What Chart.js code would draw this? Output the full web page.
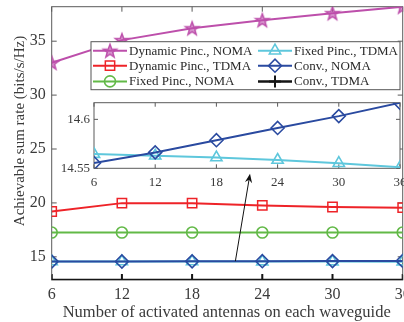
<!DOCTYPE html>
<html>
<head>
<meta charset="utf-8">
<script src="https://cdn.jsdelivr.net/npm/chart.js@4.4.1/dist/chart.umd.min.js"></script>
<style>
  html, body { margin: 0; padding: 0; background: #fff; overflow: hidden; }
  #wrap { position: relative; width: 404px; height: 322px; overflow: hidden; }
  #wrap canvas { position: absolute; left: 0; top: 0; }
</style>
</head>
<body>
<div id="wrap">
  <canvas id="main" width="404" height="322"></canvas>
  <canvas id="inset" width="404" height="322"></canvas>
</div>
<script>
// Number of activated antennas on each waveguide
const antennas = [6, 12, 18, 24, 30, 36];

// Achievable sum rate (bits/s/Hz) per scheme
const dynamicNoma = [33.0, 35.1, 36.2, 36.95, 37.6, 38.2];
const dynamicTdma = [19.2, 19.98, 19.98, 19.77, 19.62, 19.56];
const fixedNoma   = [17.25, 17.25, 17.25, 17.25, 17.25, 17.25];
const fixedTdma   = [14.5645, 14.5628, 14.561, 14.5585, 14.5552, 14.551];
const convNoma    = [14.5554, 14.5662, 14.5787, 14.5912, 14.6033, 14.6169];
const convTdma    = [12.85, 12.85, 12.85, 12.85, 12.85, 12.85];

const seriesNames = ['Dynamic Pinc., NOMA', 'Dynamic Pinc., TDMA', 'Fixed Pinc., NOMA',
                     'Fixed Pinc., TDMA', 'Conv., NOMA', 'Conv., TDMA'];

// Tick labels and axis ranges
const xTicks = [6, 12, 18, 24, 30, 36];
const mainYTicks = [15, 20, 25, 30, 35];
const mainYRange = [12.85, 38.2];
const insetYTicks = [14.55, 14.6];
const insetYRange = [14.55, 14.617];

// Arrow pointing from the Conv. curves up to the zoomed view (data units)
const arrowFrom = [21.7, 14.6];
const arrowTo = [22.95, 22.7];

const SERIF = "'Liberation Serif', 'Times New Roman', serif";
const TEXT = '#3a3a3a';
const AXIS = '#5a5a5a';

function makeStar(color, R) {
  const c = document.createElement('canvas');
  const n = Math.ceil(2 * R + 4);
  c.width = c.height = n;
  const g = c.getContext('2d');
  const r = R * 0.41, m = n / 2;
  g.beginPath();
  for (let k = 0; k < 10; k++) {
    const a = -Math.PI / 2 + k * Math.PI / 5;
    const d = k % 2 ? r : R;
    g.lineTo(m + d * Math.cos(a), m + 0.6 + d * Math.sin(a));
  }
  g.closePath();
  g.globalAlpha = 0.6; g.fillStyle = color; g.fill();
  g.globalAlpha = 1; g.lineWidth = 1.5; g.strokeStyle = color; g.lineJoin = 'miter'; g.stroke();
  return c;
}

const styles = [
  { color: '#BD4FAB', pointStyle: makeStar('#BD4FAB', 7), radius: 7, pw: 1.5, lw: 2 },
  { color: '#EE2328', pointStyle: 'rect', radius: 6.6, pw: 1.5, lw: 2 },
  { color: '#62B947', pointStyle: 'circle', radius: 5.5, pw: 1.6, lw: 2 },
  { color: '#5EC7DC', pointStyle: 'triangle', radius: 6.5, pw: 1.6, lw: 2 },
  { color: '#2A4AA0', pointStyle: 'rectRot', radius: 6.5, pw: 1.6, lw: 2 },
  { color: '#151515', pointStyle: 'cross', radius: 6, pw: 2, lw: 2.5 }
];

const seriesValues = [dynamicNoma, dynamicTdma, fixedNoma, fixedTdma, convNoma, convTdma];

function makeDataset(i) {
  const s = styles[i];
  return {
    label: seriesNames[i],
    data: antennas.map((x, k) => ({ x: x, y: seriesValues[i][k] })),
    borderColor: s.color,
    borderWidth: s.lw,
    backgroundColor: s.color,
    pointStyle: s.pointStyle,
    pointRadius: s.radius,
    pointBorderWidth: s.pw,
    pointBorderColor: s.color,
    pointBackgroundColor: 'rgba(0,0,0,0)',
    pointHoverRadius: s.radius,
    tension: 0,
    fill: false,
    order: i === 3 ? 1 : 0
  };
}

function setTicks(values) {
  return function (scale) { scale.ticks = values.map(v => ({ value: v })); };
}

// Box around the plot area with inward tick marks on all four sides
const framePlugin = {
  id: 'frame',
  beforeDatasetsDraw(chart, args, opts) {
    const { ctx, chartArea: a, scales } = chart;
    ctx.save();
    if (opts.fill) { ctx.fillStyle = '#fff'; ctx.fillRect(a.left, a.top, a.right - a.left, a.bottom - a.top); }
    ctx.strokeStyle = AXIS; ctx.lineWidth = 1;
    ctx.strokeRect(a.left, a.top, a.right - a.left, a.bottom - a.top);
    const L = opts.tick || 5;
    ctx.beginPath();
    scales.x.ticks.forEach(t => {
      const px = scales.x.getPixelForValue(t.value);
      ctx.moveTo(px, a.bottom); ctx.lineTo(px, a.bottom - L);
      ctx.moveTo(px, a.top); ctx.lineTo(px, a.top + L);
    });
    scales.y.ticks.forEach(t => {
      const py = scales.y.getPixelForValue(t.value);
      ctx.moveTo(a.left, py); ctx.lineTo(a.left + L, py);
      ctx.moveTo(a.right, py); ctx.lineTo(a.right - L, py);
    });
    ctx.stroke();
    ctx.restore();
  }
};

function drawMarker(ctx, s, x, y) {
  ctx.save();
  ctx.strokeStyle = s.color;
  ctx.fillStyle = 'rgba(0,0,0,0)';
  ctx.lineWidth = s.pw;
  Chart.helpers.drawPoint(ctx, { pointStyle: s.pointStyle, radius: s.radius, borderWidth: s.pw, rotation: 0 }, x, y);
  ctx.restore();
}

// Legend box inside the plot (two columns of three), axis titles and arrow
const decorPlugin = {
  id: 'decor',
  afterDatasetsDraw(chart) {
    const { ctx, chartArea: a, scales } = chart;
    ctx.save();

    // arrow
    const x0 = scales.x.getPixelForValue(arrowFrom[0]), y0 = scales.y.getPixelForValue(arrowFrom[1]);
    const x1 = scales.x.getPixelForValue(arrowTo[0]), y1 = scales.y.getPixelForValue(arrowTo[1]);
    const ang = Math.atan2(y1 - y0, x1 - x0);
    ctx.strokeStyle = '#111'; ctx.fillStyle = '#111'; ctx.lineWidth = 1;
    ctx.beginPath(); ctx.moveTo(x0, y0); ctx.lineTo(x1 - 4 * Math.cos(ang), y1 - 4 * Math.sin(ang)); ctx.stroke();
    const hl = 9, hw = 3.6;
    const bx = x1 - hl * Math.cos(ang), by = y1 - hl * Math.sin(ang);
    const nx = -Math.sin(ang), ny = Math.cos(ang);
    const mx = x1 - 6 * Math.cos(ang), my = y1 - 6 * Math.sin(ang);
    ctx.beginPath();
    ctx.moveTo(x1, y1);
    ctx.lineTo(bx + nx * hw, by + ny * hw);
    ctx.lineTo(mx, my);
    ctx.lineTo(bx - nx * hw, by - ny * hw);
    ctx.closePath(); ctx.fill();

    // legend
    const lx = a.left + 39.3, ly = a.top + 35, lw = 309, lh = 48;
    ctx.fillStyle = '#fff';
    ctx.fillRect(lx, ly, lw, lh);
    ctx.strokeStyle = '#555'; ctx.lineWidth = 1;
    ctx.strokeRect(lx, ly, lw, lh);
    ctx.font = '13px ' + SERIF;
    ctx.textBaseline = 'middle';
    ctx.textAlign = 'left';
    const rows = [9, 24, 39.7];
    seriesNames.forEach((name, i) => {
      const col = i < 3 ? 0 : 1;
      const row = i % 3;
      const sx = lx + 2 + col * 165;
      const sy = ly + rows[row];
      const s = styles[i];
      ctx.strokeStyle = s.color; ctx.lineWidth = s.lw;
      ctx.beginPath(); ctx.moveTo(sx, sy); ctx.lineTo(sx + 34, sy); ctx.stroke();
      drawMarker(ctx, s, sx + 17, sy);
      ctx.fillStyle = '#2a2a2a';
      ctx.fillText(name, sx + 36, sy + 0.5);
    });

    // axis titles
    ctx.fillStyle = TEXT;
    ctx.textAlign = 'center';
    ctx.font = '16.5px ' + SERIF;
    ctx.fillText('Number of activated antennas on each waveguide', 226.7, 313);
    ctx.translate(20, 131);
    ctx.rotate(-Math.PI / 2);
    ctx.font = '15px ' + SERIF;
    ctx.fillText('Achievable sum rate (bits/s/Hz)', 0, 0);
    ctx.restore();
  }
};

const mainChart = new Chart(document.getElementById('main'), {
  type: 'line',
  data: { datasets: [0, 1, 2, 3, 4, 5].map(makeDataset) },
  options: {
    responsive: false,
    animation: false,
    devicePixelRatio: 1,
    layout: { autoPadding: false, padding: { left: 0, right: 1.3, top: 6.7, bottom: 0 } },
    plugins: { legend: { display: false }, tooltip: { enabled: false }, frame: { tick: 5 } },
    scales: {
      x: {
        type: 'linear', min: 6, max: 36,
        afterBuildTicks: setTicks(xTicks),
        afterFit(scale) { scale.height = 42; scale.paddingLeft = 0; scale.paddingRight = 0; },
        grid: { display: false, drawTicks: false },
        border: { display: false },
        ticks: { color: TEXT, font: { family: SERIF, size: 16 }, padding: 5, maxRotation: 0, autoSkip: false }
      },
      y: {
        type: 'linear', min: mainYRange[0], max: mainYRange[1],
        afterBuildTicks: setTicks(mainYTicks),
        afterFit(scale) { scale.width = 51.7; scale.paddingTop = 0; scale.paddingBottom = 0; },
        grid: { display: false, drawTicks: false },
        border: { display: false },
        ticks: { color: TEXT, font: { family: SERIF, size: 16 }, padding: 6 }
      }
    }
  },
  plugins: [framePlugin, decorPlugin]
});

// Zoomed view of the Fixed Pinc., TDMA and Conv., NOMA curves
const insetChart = new Chart(document.getElementById('inset'), {
  type: 'line',
  data: { datasets: [makeDataset(3), makeDataset(4)] },
  options: {
    responsive: false,
    animation: false,
    devicePixelRatio: 1,
    layout: { autoPadding: false, padding: { left: 50, right: 4, top: 102.7, bottom: 133.7 } },
    plugins: { legend: { display: false }, tooltip: { enabled: false }, frame: { tick: 4, fill: true } },
    scales: {
      x: {
        type: 'linear', min: 6, max: 36,
        afterBuildTicks: setTicks(xTicks),
        afterFit(scale) { scale.height = 20; scale.paddingLeft = 0; scale.paddingRight = 0; },
        grid: { display: false, drawTicks: false },
        border: { display: false },
        ticks: { color: TEXT, font: { family: SERIF, size: 13 }, padding: 6, maxRotation: 0, autoSkip: false }
      },
      y: {
        type: 'linear', min: insetYRange[0], max: insetYRange[1],
        afterBuildTicks: setTicks(insetYTicks),
        afterFit(scale) { scale.width = 44; scale.paddingTop = 0; scale.paddingBottom = 0; },
        grid: { display: false, drawTicks: false },
        border: { display: false },
        ticks: { color: TEXT, font: { family: SERIF, size: 13 }, padding: 4,
                 callback: v => String(Math.round(v * 100) / 100) }
      }
    }
  },
  plugins: [framePlugin]
});
</script>
</body>
</html>
